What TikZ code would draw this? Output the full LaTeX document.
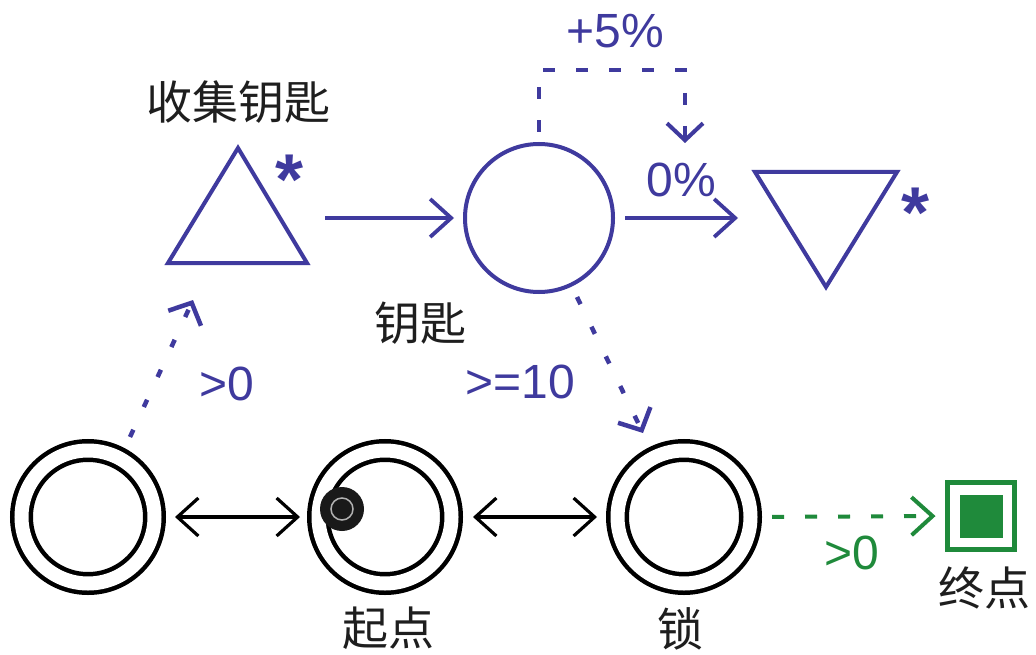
\documentclass[tikz,border=0pt]{standalone}
\usepackage{fontspec}
\setmainfont{Liberation Sans}
\newfontfamily\cjk{Noto Sans CJK SC}
\usetikzlibrary{arrows.meta,shapes.geometric,calc}
\definecolor{kblue}{HTML}{3F3A9E}
\definecolor{kgreen}{HTML}{1F8A3B}
\definecolor{ktext}{HTML}{1E1E1E}
\begin{document}
\begin{tikzpicture}[x=1pt,y=-1pt,
  ring/.style={circle, draw=black, line width=4.5pt, double=white, double distance=14pt,
    minimum size=133pt, inner sep=0pt, outer sep=0pt},
  keyc/.style={circle, draw=kblue, line width=4pt, minimum size=148pt, inner sep=0pt, outer sep=0pt},
  barb/.style={-{Straight Barb[length=21pt,width=38pt]}},
  dbarb/.style={{Straight Barb[length=21pt,width=38pt]}-{Straight Barb[length=21pt,width=38pt]}},
  sbarb/.style={-{Straight Barb[length=17pt,width=36pt]}},
  dotline/.style={line width=4.5pt, dash pattern=on 8pt off 25pt},
  dashline/.style={line width=4pt, dash pattern=on 12pt off 21pt},
  lbl/.style={font=\fontsize{48}{48}\selectfont, anchor=base, inner sep=0pt},
  cjklbl/.style={font=\cjk\fontsize{46}{46}\selectfont, text=ktext, anchor=base, inner sep=0pt},
  star/.style={font=\bfseries\fontsize{72}{72}\selectfont, text=kblue, anchor=base, inner sep=0pt}
]
\useasboundingbox[fill=white] (0,0) rectangle (1036,655);

% bottom row
\node[ring] (c1) at (88,517) {};
\node[ring] (c2) at (385,517) {};
\node[ring] (c3) at (684,517) {};
\node[circle, fill=black!90, minimum size=44pt, inner sep=0pt] (tok) at (342,509) {};
\node[circle, draw=gray!60, line width=1.5pt, minimum size=22pt, inner sep=0pt] (tokr) at (tok) {};

% end square
\node[rectangle, draw=kgreen, line width=5pt, minimum size=67pt, inner sep=0pt, outer sep=0pt] (fin) at (981,516) {};
\node[rectangle, fill=kgreen, minimum size=43pt, inner sep=0pt] (fini) at (981.5,516.5) {};

% upper shapes
\node[keyc] (key) at (539,218) {};
\draw[kblue, line width=4pt, line join=miter] (168,263) -- (238,148) -- (307,263) -- cycle;
\draw[kblue, line width=4pt, line join=miter] (755,172) -- (897,172) -- (826,287) -- cycle;
\node[star] (s1) at (290,205) {*};
\node[star] (s2) at (915,237) {*};

% connectors
\draw[dbarb, line width=3.2pt, shorten <=20.5pt, shorten >=18.5pt] (c1.east) -- (c2.west);
\draw[dbarb, line width=3.2pt, shorten <=21.5pt, shorten >=20.5pt] (c2.east) -- (c3.west);
\draw[barb, kgreen, dashline, shorten <=21.5pt, shorten >=12pt] (c3.east) -- (fin.west);

\coordinate (t1) at (325,218);
\draw[barb, kblue, line width=3.8pt, shorten >=11pt] (t1) -- (key.west);
\coordinate (t2) at (738,218);
\draw[barb, kblue, line width=3.8pt, shorten <=12pt] (key.east) -- (t2);

\coordinate (lend) at (685,143);
\draw[sbarb, kblue, dashline] ([yshift=12pt]key.north) -- ++(0,-62) -| (lend);

\coordinate (d1s) at (130,437);
\coordinate (d1e) at (193,300);
\draw[sbarb, kblue, dotline] (d1s) -- (d1e);
\coordinate (d2s) at (577,297);
\coordinate (d2e) at (643,433);
\draw[sbarb, kblue, dotline] (d2s) -- (d2e);

% labels
\node[lbl, text=kblue] (l5) at (615,48) {+5\%};
\node[lbl, text=kblue] (l0) at (681,197) {0\%};
\node[lbl, text=kblue] (lg0) at (227,400) {>0};
\node[lbl, text=kblue] (lg10) at (520,398) {>=10};
\node[lbl, text=kgreen] (lf0) at (852,569) {>0};

\node[cjklbl] (n1) at (238,120) {收集钥匙};
\node[cjklbl] (n2) at (420,340) {钥匙};
\node[cjklbl] (n3) at (388,645) {起点};
\node[cjklbl] (n4) at (680,646) {锁};
\node[cjklbl] (n5) at (984,605) {终点};
\end{tikzpicture}
\end{document}
